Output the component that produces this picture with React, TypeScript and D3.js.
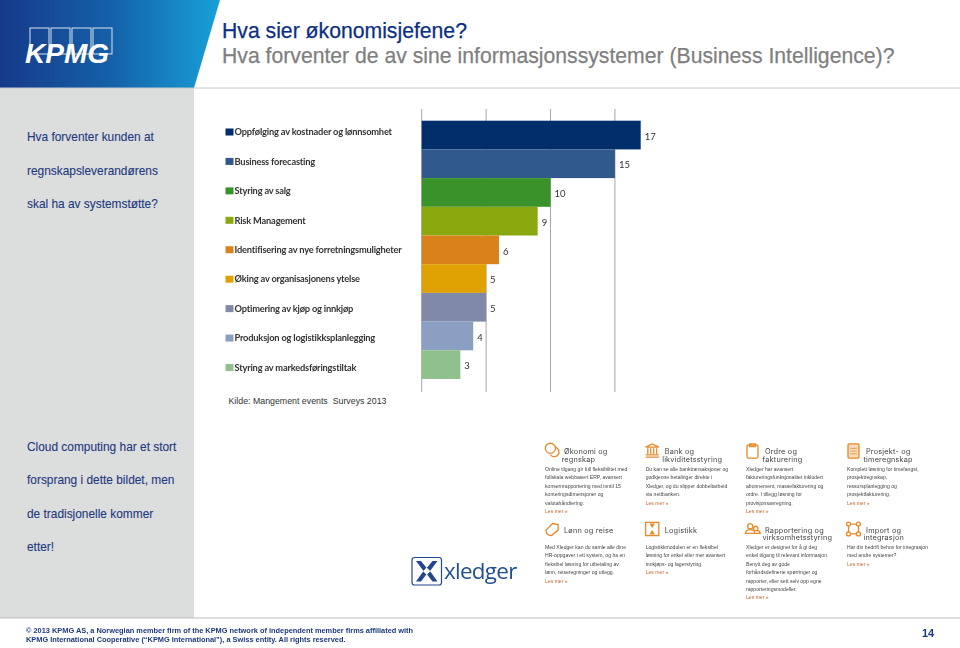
import * as d3 from "d3";

// survey chart
const categories = [
  "Oppfølging av kostnader og lønnsomhet",
  "Business forecasting",
  "Styring av salg",
  "Risk Management",
  "Identifisering av nye forretningsmuligheter",
  "Øking av organisasjonens ytelse",
  "Optimering av kjøp og innkjøp",
  "Produksjon og logistikksplanlegging",
  "Styring av markedsføringstiltak",
];
const values = [17, 15, 10, 9, 6, 5, 5, 4, 3];
const gridTicks = [0, 5, 10, 15];
const barColors = ["#022f6b", "#30598c", "#39932a", "#88a80e", "#d9821b", "#e0a102", "#8189a8", "#8a9fc1", "#90c08b"];

// left panel
const sideTop = ["Hva forventer kunden at", "regnskapsleverandørens", "skal ha av systemstøtte?"];
const sideBottom = ["Cloud computing har et stort", "forsprang i dette bildet, men", "de tradisjonelle kommer", "etter!"];

// xledger feature blocks
const featureHeadings = [
  ["Økonomi og", "regnskap"],
  ["Bank og", "likviditetsstyring"],
  ["Ordre og", "fakturering"],
  ["Prosjekt- og", "timeregnskap"],
  ["Lønn og reise"],
  ["Logistikk"],
  ["Rapportering og", "virksomhetsstyring"],
  ["Import og", "integrasjon"],
];
const featureTexts = [
  ["Online tilgang gir full fleksibilitet med", "fullskala webbasert ERP, avansert", "konsernrapportering med inntil 15", "konteringsdimensjoner og", "valutahåndtering."],
  ["Du kan se alle banktransaksjoner og", "godkjenne betalinger direkte i", "Xledger, og du slipper dobbeltarbeid", "via nettbanken."],
  ["Xledger har avansert", "faktureringsfunksjonalitet inkludert", "abonnement, massefakturering og", "ordre. I tillegg løsning for", "provisjonsavregning."],
  ["Komplett løsning for timefangst,", "prosjektregnskap,", "ressursplanlegging og", "prosjektfakturering."],
  ["Med Xledger kan du samle alle dine", "HR-oppgaver i ett system, og ha en", "fleksibel løsning for utbetaling av", "lønn, reiseregninger og utlegg."],
  ["Logistikkmodulen er en fleksibel", "løsning for enkel eller mer avansert", "innkjøps- og lagerstyring."],
  ["Xledger er designet for å gi deg", "enkel tilgang til relevant informasjon.", "Benytt deg av gode", "forhåndsdefinerte spørringer og", "rapporter, eller sett selv opp egne", "rapporteringsmodeller."],
  ["Har din bedrift behov for integrasjon", "med andre systemer?"],
];
const readMore = "Les mer »";

const footerLines = [
  "© 2013 KPMG AS, a Norwegian member firm of the KPMG network of independent member firms affiliated with",
  "KPMG International Cooperative (“KPMG International”), a Swiss entity. All rights reserved.",
];

const arial = "'Liberation Sans', Arial, sans-serif";
const navy = "#1c3a7d";
const orange = "#e58a2c";

const x = d3.scaleLinear().domain([0, 17]).range([421.7, 640.7]);
const y = d3.scaleBand<string>().domain(categories).range([120.7, 379]);
const legendY = d3.scaleLinear().domain([0, 8]).range([132, 367.5]);
const featureCols = [545, 645.7, 746, 847];
const featureRows = [451, 529.5];
const bodyRows = [469, 547];

const FeatureIcon = ({ i }: { i: number }) => {
  const common = { fill: "none", stroke: orange, strokeWidth: 1.2 };
  const cx = featureCols[i % 4] + 6.5;
  const cy = featureRows[Math.floor(i / 4)] - 0.5;
  const shapes = [
    <g {...common}><circle cx={-1} cy={-2} r={4.6} /><path d="M3.6 -3 A4.4 4.4 0 1 1 -1 4" /></g>,
    <g {...common}><path d="M-6 -3 L0 -6 L6 -3 Z M-6 6 H6 M-6 4 H6" /><path d="M-4 -2 V3.5 M-1.3 -2 V3.5 M1.3 -2 V3.5 M4 -2 V3.5" /></g>,
    <g {...common}><rect x={-5} y={-5} width={10} height={12} rx={1.5} /><path d="M-2.5 -6 H2.5 V-3.6 H-2.5 Z" /></g>,
    <g {...common}><rect x={-5} y={-6} width={10} height={13} rx={1} fill="#f6dcbc" /><path d="M-3 -2 H3 M-3 0.5 H3 M-3 3 H3" strokeWidth={0.7} /></g>,
    <g {...common}><path d="M-5 1 L1 -5 L6 -4 L6 1 L0 6 Q-5 6 -5 1 Z" /></g>,
    <g {...common}><rect x={-6} y={-6} width={12} height={12} /><path d="M-2.5 -5 H2.5 L0 -1 Z M-2.5 5 H2.5 L0 1 Z" fill={orange} stroke="none" /></g>,
    <g {...common}><circle cx={-2} cy={-2.5} r={2.4} /><circle cx={3} cy={-0.5} r={2} /><path d="M-6.5 4 Q-6 0.5 -2 0.5 Q2 0.5 2 4 Z M2 4 H7 Q7 1.5 4 1.5" /></g>,
    <g {...common}><circle cx={-4.5} cy={-4.5} r={1.8} /><circle cx={4.5} cy={-4.5} r={1.8} /><circle cx={-4.5} cy={4.5} r={1.8} /><circle cx={4.5} cy={4.5} r={1.8} /><path d="M-2.7 -4.5 H2.7 M-2.7 4.5 H2.7 M-4.5 -2.7 V2.7 M4.5 -2.7 V2.7" /></g>,
  ];
  return <g transform={`translate(${cx},${cy}) scale(1.1)`}>{shapes[i]}</g>;
};

export default function App() {
  return (
    <svg width={960} height={648} style={{ position: "absolute", left: 0, top: 0, background: "#fff" }}>
      <defs>
        <linearGradient id="headerGrad" x1="0" x2="1" y1="0" y2="0">
          <stop offset="0" stopColor="#163a8a" />
          <stop offset="0.5" stopColor="#1560a8" />
          <stop offset="1" stopColor="#18a0d8" />
        </linearGradient>
        <filter id="soft" x="-5%" y="-5%" width="110%" height="110%">
          <feGaussianBlur stdDeviation="0.3" />
        </filter>
      </defs>

      {/* header and side panel */}
      <rect x={0} y={88} width={194} height={530} fill="#dcdddd" />
      <path d="M0 0 H220 L194 88 H0 Z" fill="url(#headerGrad)" />
      <line x1={0} x2={960} y1={88} y2={88} stroke="#c8c8c8" />
      <line x1={0} x2={960} y1={618} y2={618} stroke="#bdbdbd" />

      {/* KPMG logo */}
      <g fill="none" stroke="#eef3fa" strokeWidth={0.9}>
        {d3.range(4).map((i) => (
          <rect key={i} x={30 + i * 21} y={28} width={19} height={26} />
        ))}
      </g>
      <text x={25} y={62.5} fontFamily={arial} fontWeight="bold" fontStyle="italic" fontSize={28} fill="#fff">KPMG</text>

      <g fontFamily={arial} fontSize={21.2} stroke="currentColor" strokeWidth={0.25}>
        <text x={222} y={38} fill="#0c2f86" color="#0c2f86">Hva sier økonomisjefene?</text>
        <text x={222} y={63} fill="#7f7f7f" color="#7f7f7f">Hva forventer de av sine informasjonssystemer (Business Intelligence)?</text>
      </g>

      <g fontFamily={arial} fontSize={11.9} fill={navy} stroke={navy} strokeWidth={0.1}>
        {sideTop.map((t, i) => (
          <text key={t} x={27} y={141 + i * 33.5}>{t}</text>
        ))}
        {sideBottom.map((t, i) => (
          <text key={t} x={27} y={451 + i * 33.3}>{t}</text>
        ))}
      </g>

      {/* chart */}
      {gridTicks.map((t) => (
        <line key={t} x1={x(t)} x2={x(t)} y1={109} y2={392} stroke="#a6a6a6" />
      ))}
      {categories.map((c, i) => (
        <rect key={c} x={x(0)} y={y(c)} width={x(values[i]) - x(0)} height={y.bandwidth()} fill={barColors[i]} />
      ))}
      <g filter="url(#soft)" fontFamily="Lato, sans-serif" fill="#333" fontWeight={700}>
        {categories.map((c, i) => (
          <g key={c}>
            <rect x={225.5} y={legendY(i) - 3.5} width={8} height={7} fill={barColors[i]} />
            <text x={234.5} y={legendY(i) + 3.3} fontSize={9.3} letterSpacing={-0.2}>{c}</text>
            <text x={x(values[i]) + 4} y={y(c)! + y.bandwidth() / 2 + 4.7} fontSize={9.5} fontWeight={400}>{values[i]}</text>
          </g>
        ))}
      </g>
      <text x={228.5} y={404} fontFamily={arial} fontSize={8.8} fill="#333" style={{ whiteSpace: "pre" }}>Kilde: Mangement events  Surveys 2013</text>

      {/* xledger features */}
      <g filter="url(#soft)">
        {featureHeadings.map((lines, i) => {
          const col = featureCols[i % 4];
          const row = Math.floor(i / 4);
          const body = featureTexts[i];
          return (
            <g key={i}>
              <FeatureIcon i={i} />
              <g fontFamily="Inter, sans-serif" fontSize={7.3} fill="#444" letterSpacing={0.2}>
                {lines.map((l, j) => (
                  <text key={l} x={col + (j === 0 ? 19 : 16.5)} y={featureRows[row] + 3 + j * 7.8}>{l}</text>
                ))}
              </g>
              <g fontFamily={arial} fontSize={5.1} fill="#444">
                {body.map((l, j) => (
                  <text key={l} x={col} y={bodyRows[row] + 1.7 + j * 8.45}>{l}</text>
                ))}
                <text x={col} y={bodyRows[row] + 1.7 + body.length * 8.45} fill="#c8662a">{readMore}</text>
              </g>
            </g>
          );
        })}
      </g>

      {/* xledger logo */}
      <rect x={412} y={557.5} width={29.5} height={27.5} rx={2.5} fill="none" stroke="#23478f" strokeWidth={1.2} />
      <path d="M416 561 L421 561 L426.7 568 L432.5 561 L437.5 561 L430 571 L437.5 581.5 L432.5 581.5 L426.7 574 L421 581.5 L416 581.5 L423.5 571 Z" fill="#23478f" />
      <path d="M426.7 567.6 L430.4 571.2 L426.7 574.8 L423 571.2 Z" fill="#fff" />
      <text x={444} y={578.5} fontFamily="'Open Sans', sans-serif" fontSize={22.4} fill="#23508f" letterSpacing={-0.7}>xledger</text>

      {/* footer */}
      <g fontFamily={arial} fontWeight="bold" fontSize={7.4} fill={navy}>
        {footerLines.map((l, i) => (
          <text key={l} x={26} y={633 + i * 9.3}>{l}</text>
        ))}
      </g>
      <text x={928} y={637} textAnchor="middle" fontFamily={arial} fontWeight="bold" fontSize={11} fill={navy}>14</text>
    </svg>
  );
}
